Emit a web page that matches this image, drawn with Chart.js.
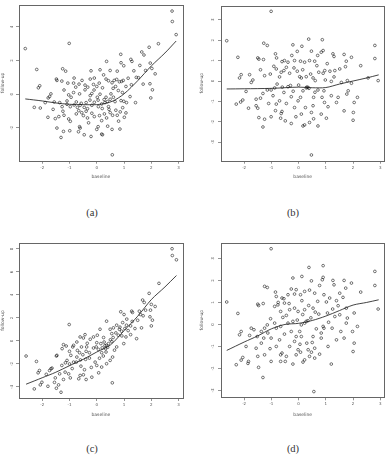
<!DOCTYPE html>
<html><head><meta charset="utf-8">
<script src="https://cdn.jsdelivr.net/npm/chart.js@4.4.1/dist/chart.umd.min.js"></script>
<style>
html,body{margin:0;padding:0;background:#fff;width:389px;height:457px;overflow:hidden;position:relative;}
canvas{position:absolute;}
.cap{position:absolute;font-family:"Liberation Serif","DejaVu Serif",serif;font-size:10.5px;color:#333;transform:translate(-50%,-50%);white-space:nowrap;}
</style></head><body>
<canvas id="ca" width="195" height="180" style="left:0;top:0"></canvas>
<canvas id="cb" width="194" height="180" style="left:195px;top:0"></canvas>
<canvas id="cc" width="195" height="190" style="left:0;top:228px"></canvas>
<canvas id="cd" width="194" height="190" style="left:195px;top:228px"></canvas>
<div class="cap" style="left:92px;top:212px">(a)</div>
<div class="cap" style="left:293px;top:212px">(b)</div>
<div class="cap" style="left:92px;top:448px">(c)</div>
<div class="cap" style="left:293px;top:448px">(d)</div>
<script>
// ---- data ----
const xTicks = [-2, -1, 0, 1, 2, 3];
const yTicksA = [-2, 0, 2, 4];
const yTicksB = [-3, -2, -1, 0, 1, 2, 3];
const yTicksC = [-4, -2, 0, 2, 4, 6, 8];
const yTicksD = [-3, -2, -1, 0, 1, 2, 3];
const xLabel = "baseline";
const yLabel = "follow-up";

const pointsA = [[-2.62,2.71],[2.76,4.94],[2.77,4.32],[2.91,3.54],[-1.01,3.02],[2.26,3.0],[1.92,2.79],[1.65,2.51],[1.73,2.33],[0.88,2.37],[1.25,2.07],[1.29,1.95],[0.36,1.95],[0.89,1.87],[-2.2,1.47],[-1.25,1.51],[-1.14,1.37],[-0.21,1.39],[0.12,1.45],[0.49,1.41],[0.75,1.37],[0.99,1.69],[1.58,1.71],[1.79,1.41],[1.96,1.85],[2.02,1.53],[2.14,1.21],[1.36,1.39],[1.53,0.98],[-1.48,0.9],[-1.46,0.82],[-1.28,0.78],[-0.83,0.96],[-0.54,0.82],[-0.24,0.9],[-0.09,0.96],[0.09,0.66],[0.34,0.9],[0.43,0.8],[0.56,0.68],[0.64,0.82],[0.73,0.88],[0.83,0.74],[0.91,0.76],[0.97,0.82],[1.07,0.46],[-2.09,0.5],[-2.14,0.38],[-1.06,0.66],[-0.85,0.66],[-0.77,0.42],[-0.43,0.54],[-0.33,0.42],[-0.43,0.26],[-0.12,0.58],[0,0.46],[0.21,0.38],[0.69,0.46],[1.27,0.56],[1.95,0.62],[2.04,0.26],[-1.68,0.02],[-1.73,-0.14],[-1.78,-0.22],[-1.03,-0.04],[-0.94,-0.18],[-0.85,0.1],[-0.63,0.02],[-0.24,-0.08],[-0.18,0.04],[0.02,-0.18],[0.12,0],[0.34,-0.18],[0.52,0.02],[0.79,0.22],[0.94,0.1],[0.89,-0.38],[0.99,-0.42],[1.22,-0.14],[1.42,-0.5],[1.98,-0.22],[-2.29,-0.78],[-2.07,-0.82],[-1.89,-0.5],[-1.56,-0.46],[-1.36,-0.5],[-1.27,-0.74],[-1.09,-0.6],[-0.97,-0.74],[-0.83,-0.64],[-0.71,-0.78],[-0.61,-0.66],[-0.46,-0.78],[-0.34,-0.86],[-0.18,-0.66],[-0.09,-0.48],[0.06,-0.74],[0.18,-0.58],[0.3,-0.5],[0.43,-0.74],[0.67,-0.44],[1.09,-0.5],[-1.79,-1.37],[-1.52,-1.45],[-1.39,-1.33],[-1.24,-1.01],[-1.03,-1.47],[-0.97,-1.61],[-0.75,-1.17],[-0.66,-0.98],[-0.49,-1.27],[-0.39,-1.01],[-0.34,-1.41],[-0.18,-1.13],[-0.09,-1.33],[0.1,-1.27],[0.18,-1.57],[0.28,-1.17],[0.36,-1.41],[0.49,-1.09],[0.58,-1.25],[0.75,-1.25],[0.86,-1.05],[1.01,-1.37],[1.07,-1.11],[-1.46,-2.01],[-1.22,-2.21],[-0.99,-2.17],[-0.63,-1.93],[-0.61,-2.01],[-0.67,-2.23],[-0.46,-2.41],[-0.21,-2.51],[0.05,-1.93],[0,-2.09],[0.18,-2.37],[0.21,-2.41],[0.56,-2.09],[-1.31,-2.57],[0.57,-3.6],[0.85,-2.07],[0.27,-0.32],[0.39,-0.44],[0.49,-0.3],[0.61,-0.18],[-0.39,-0.5],[-0.57,-0.54],[-0.75,-0.46],[-1.09,-0.4],[0.45,-0.9],[0.7,-0.95],[0.95,-0.8],[-0.25,-0.35],[0.05,-0.35],[0.2,-0.85],[-0.55,-1.1],[-1.2,-1.25],[-1.6,-0.9],[-0.1,0.25],[0.6,0.35],[1.15,0.95],[1.45,1.0],[1.7,0.6],[0.25,1.15],[-0.65,0.6],[-1.2,0.25],[0.8,-1.6],[-0.3,-1.7],[0.4,-1.9]];
const lineXA = [-2.62,-2,-1.5,-1,-0.5,0,0.3,0.6,1,1.5,2,2.5,2.91];
const lineYA = [-0.28,-0.4,-0.52,-0.6,-0.62,-0.62,-0.55,-0.4,0.02,0.8,1.68,2.45,3.16];

const pointsB = [[-2.64,1.97],[-1.01,3.41],[-2.23,1.16],[-1.28,1.85],[-1.15,1.74],[-0.21,1.77],[0.12,1.7],[0.37,2.05],[0.87,2.02],[0.9,1.49],[0.83,1.41],[0.47,1.46],[1.26,1.33],[1.3,1.2],[1.67,1.3],[1.94,1.16],[2.8,1.74],[2.8,1.1],[2.92,0.02],[2.28,0.75],[-1.5,1.13],[-1.46,1.07],[-1.29,1.05],[-0.85,1.33],[-0.81,1.13],[-0.61,0.95],[-0.52,1.0],[-0.39,0.92],[-0.25,1.25],[-0.15,1.0],[0.07,0.97],[0.22,0.92],[0.4,1.0],[0.59,0.97],[0.67,0.75],[1.75,0.97],[1.51,0.59],[1.33,0.51],[1.15,0.48],[0.96,0.51],[0.74,0.43],[0.9,0.38],[1.72,0.7],[-2.11,0.31],[-2.17,0.15],[-1.8,0.31],[-1.68,0.05],[-1.25,0.26],[-1.04,0.34],[-0.91,0.72],[-0.82,0.59],[-0.64,0.43],[-0.54,0.51],[-0.45,0.67],[-0.33,0.38],[-0.17,0.64],[-0.05,0.48],[0.04,0.21],[0.1,0.15],[0.28,0.21],[0.44,0.34],[0.53,0.15],[0.61,0.02],[0.98,0.05],[1.2,-0.02],[1.57,-0.07],[1.79,0.02],[1.94,-0.11],[1.82,-0.48],[1.77,-0.64],[2.16,-0.8],[2.04,-1.05],[2.01,-1.54],[2.0,-1.92],[1.39,-1.05],[1.2,-0.72],[1.08,-1.26],[1.02,-1.82],[0.93,-0.48],[0.86,-0.8],[0.71,-0.44],[0.55,-0.8],[0.53,-1.21],[0.47,-1.54],[0.4,-2.03],[0.22,-2.15],[0.16,-2.2],[-0.15,-1.3],[-0.1,-1.75],[-0.27,-2.08],[0.1,-1.62],[0.28,-0.34],[0.34,-0.31],[0.16,-0.48],[0.07,-0.8],[-0.02,-0.97],[-0.27,-0.77],[-0.39,-0.28],[-0.54,-0.56],[-0.7,-0.97],[-0.82,-1.13],[-0.61,-1.49],[-0.64,-1.59],[-0.49,-1.95],[-0.66,-1.82],[-1.01,-1.75],[-1.25,-1.87],[-1.31,-2.25],[-1.46,-1.79],[-1.5,-1.33],[-1.56,-1.21],[-1.4,-0.84],[-1.31,-0.61],[-1.15,-0.44],[-1.56,-0.89],[-1.84,-1.33],[-2.29,-1.13],[-2.05,-0.93],[-2.13,-1.03],[-1.93,-0.51],[-1.74,-0.07],[-1.01,-0.44],[-0.94,-0.72],[-0.88,-0.34],[-0.79,-0.15],[0.47,-3.62],[0.71,-2.2],[0.83,-1.62],[1.67,-1.46],[1.45,-0.8],[2.55,0.15],[0.3,-0.3],[0.38,-0.36],[-0.3,-0.22],[-0.6,-0.3],[0.0,-0.2],[0.6,-0.55],[0.95,-1.05],[-0.2,-0.5],[-0.45,-1.1],[-1.1,-1.1],[0.25,-1.3],[1.3,0.2],[0.15,0.55],[-0.7,0.2],[-1.4,0.55],[0.7,1.25],[1.05,0.85],[-0.05,1.45],[0.55,-1.85],[-0.85,-1.45]];
const lineXB = [-2.64,-2,-1,0,0.5,1,1.5,2,2.5,2.94];
const lineYB = [-0.39,-0.38,-0.36,-0.3,-0.33,-0.32,-0.15,0.0,0.15,0.3];

const pointsC = [[-2.59,-1.31],[2.76,8.02],[2.77,7.43],[2.92,7.06],[2.28,5.01],[1.92,4.14],[1.68,3.56],[1.74,3.35],[2.0,3.18],[2.14,3.0],[1.97,2.68],[1.28,2.59],[1.31,2.48],[1.56,2.59],[1.79,2.68],[0.88,2.54],[1.0,2.3],[0.36,1.72],[0.12,1.02],[-1.01,1.43],[1.7,2.19],[1.95,2.1],[2.04,1.81],[2.0,1.31],[1.64,1.14],[1.4,1.08],[1.09,1.37],[1.24,1.31],[1.03,1.08],[0.83,1.02],[0.91,0.85],[0.73,1.37],[0.61,1.14],[0.49,1.02],[0.55,0.64],[0.79,0.5],[0.92,0.44],[1.07,0.35],[1.24,0.55],[0.99,-0.23],[1.46,0.2],[0.02,0.5],[-0.12,0.35],[-0.24,0.15],[-0.43,0.55],[-0.49,0.26],[-0.61,0.35],[-0.73,-0.09],[-0.85,-0.38],[-0.88,-0.52],[-1.22,-0.32],[-1.12,-0.44],[-1.46,-1.25],[-1.48,-1.31],[-1.27,-0.67],[-1.0,-0.9],[-0.95,-1.25],[-0.73,-1.4],[-0.63,-1.02],[-0.51,-1.2],[-0.39,-0.9],[-0.27,-1.02],[-0.12,-0.61],[-0.02,-0.52],[0.06,-0.73],[0.18,-1.02],[0.24,-1.31],[0.32,-0.67],[0.36,-0.38],[0.43,-0.23],[0.27,-0.09],[0.15,-0.23],[0,-0.15],[0.34,-0.96],[0.49,-1.69],[0.58,-1.4],[0.18,-2.27],[0.36,-1.98],[0.07,-2.77],[0.57,-3.64],[-0.18,-3.15],[-0.39,-3.35],[-0.49,-2.94],[-0.61,-3.0],[-0.66,-3.29],[-0.58,-2.19],[-0.75,-1.84],[-0.97,-3.21],[-1.03,-2.86],[-1.16,-2.71],[-1.22,-3.35],[-1.4,-3.82],[-1.31,-4.46],[-1.48,-4.11],[-1.52,-3.21],[-1.36,-2.86],[-1.28,-2.13],[-1.64,-2.36],[-1.73,-2.57],[-1.79,-3.94],[-2.07,-3.82],[-2.01,-3.59],[-2.15,-2.77],[-2.1,-2.57],[-2.21,-1.78],[-2.29,-4.17],[-1.68,-2.42],[-1.09,-1.69],[-0.85,-1.84],[-0.41,-1.6],[-0.27,-1.49],[-0.06,-1.84],[0,-2.13],[0.73,-0.52],[-0.37,-0.52],[-0.56,-0.52],[-0.71,-0.82],[0.3,-0.4],[0.4,-0.55],[0.2,-0.6],[0.5,0.1],[0.6,0.3],[0.7,0.7],[0.95,1.6],[1.1,1.9],[1.5,1.8],[1.15,0.9],[0.85,1.2],[-0.2,-2.3],[-0.9,-2.4],[-1.15,-1.9],[-0.45,-2.5],[0.1,-1.5],[-0.6,-1.65],[-1.0,-2.0],[0.25,0.3],[-0.35,-0.2],[0.65,-0.8],[1.3,1.7],[1.6,2.3],[-1.85,-2.9],[-1.55,-3.6],[0.55,-0.05]];
const lineXC = [-2.59,-2,-1.5,-1,-0.5,0,0.5,1,1.5,2,2.5,2.92];
const lineYC = [-3.76,-3.2,-2.72,-2.15,-1.6,-0.96,-0.35,0.9,2.15,3.6,4.7,5.69];

const pointsD = [[-2.64,1.02],[-1.01,3.44],[-2.23,0.5],[2.8,2.41],[2.8,1.77],[2.92,0.7],[2.28,1.47],[0.9,2.67],[0.38,2.59],[-0.21,2.11],[0.12,2.18],[0.47,1.98],[0.9,2.14],[0.87,2.03],[1.26,2.0],[1.3,1.8],[1.67,2.0],[1.94,1.88],[1.73,1.65],[1.51,1.42],[1.63,1.23],[-1.25,1.73],[-1.15,1.68],[-0.85,1.47],[-0.82,1.27],[-0.61,1.2],[-0.54,1.17],[-0.39,1.35],[-0.27,1.61],[-0.15,1.38],[-0.09,1.58],[0.07,1.35],[0.12,1.08],[0.22,1.5],[0.4,1.56],[0.59,1.42],[0.77,1.77],[0.93,1.35],[1.14,1.2],[1.02,1.02],[1.39,1.08],[-1.5,0.92],[-1.47,0.86],[-1.3,0.95],[-0.88,0.82],[-0.76,0.89],[-0.52,0.97],[-0.66,0.59],[-0.58,0.32],[-0.45,0.41],[-0.33,0.67],[-0.15,0.74],[-0.02,0.59],[0.22,0.67],[0.37,0.86],[0.53,0.74],[0.61,0.56],[0.74,0.47],[1.06,0.52],[1.33,0.36],[1.51,0.44],[1.75,0.74],[1.79,0.29],[1.75,0.06],[2.04,0.52],[2.16,-0.09],[1.98,-0.32],[2.04,-0.85],[2.0,-1.23],[1.55,-0.32],[1.39,-0.7],[1.23,-0.17],[1.08,-1.0],[0.93,-0.17],[0.9,-0.09],[0.83,-0.62],[0.53,-0.55],[0.5,-0.82],[0.59,-1.08],[0.47,-1.26],[0.4,-1.45],[0.59,-1.53],[0.77,-1.35],[0.28,0.14],[0.34,0.17],[0.22,0.06],[0.1,-0.02],[0.04,-0.32],[0.1,-0.55],[-0.09,-0.55],[-0.15,-0.77],[-0.27,-0.32],[-0.21,0.14],[-0.39,0.06],[-0.52,-0.44],[-0.66,-0.09],[-0.82,-0.17],[-0.88,0.06],[-1.03,0.26],[-1.15,-0.02],[-1.25,-0.17],[-1.13,-0.39],[-1.01,-0.62],[-1.28,-0.62],[-1.37,-0.32],[-1.52,-0.55],[-1.56,-1.08],[-1.5,-1.45],[-1.37,-0.85],[-1.25,-1.38],[-1.01,-1.68],[-0.82,-1.0],[-0.66,-1.38],[-0.61,-1.3],[-0.66,-1.68],[-0.49,-1.68],[-0.45,-1.45],[-0.21,-1.8],[-0.09,-1.38],[0.07,-1.26],[0.16,-1.71],[0.22,-1.61],[-0.02,-1.15],[-0.33,-1.0],[-1.93,-1.0],[-1.74,-0.17],[-1.8,-0.5],[-1.64,-0.24],[-2.11,-0.32],[-2.17,-0.47],[-2.05,-1.5],[-2.11,-1.62],[-2.29,-1.83],[-1.84,-1.68],[-1.86,-1.77],[-1.47,-1.95],[-1.31,-2.41],[0.56,-3.05],[1.2,-1.8],[1.67,-0.62],[0.83,-0.39],[0.45,0.3],[0.65,-0.2],[-0.05,0.2],[-0.7,-0.7],[0.3,-0.85],[1.1,0.1],[1.45,0.85],[-0.35,0.95],[0.15,0.45],[-1.05,-1.1],[0.35,-1.15],[1.25,0.7],[-0.75,1.0],[0.05,-0.9],[0.7,1.05]];
const lineXD = [-2.64,-2,-1.5,-1,-0.5,0,0.5,1,1.5,2,2.5,2.94];
const lineYD = [-1.18,-0.8,-0.52,-0.2,0.0,0.05,0.18,0.38,0.63,0.88,1.0,1.12];

// ---- drawing ----
const boxPlugin = {
  id: 'rbox',
  afterDraw(chart) {
    const a = chart.chartArea, c = chart.ctx;
    c.save(); c.strokeStyle = '#666'; c.lineWidth = 1;
    c.strokeRect(Math.round(a.left) + 0.5, Math.round(a.top) + 0.5, Math.round(a.right - a.left), Math.round(a.bottom - a.top));
    c.restore();
  }
};

function panel(id, pts, lx, ly, yTicks, xr, yr, L) {
  const tickFont = {family: 'DejaVu Sans', size: 4};
  new Chart(document.getElementById(id), {
    type: 'scatter',
    data: {datasets: [
      {data: pts.map(p => ({x: p[0], y: p[1]})), pointRadius: 1.35, pointBorderWidth: 0.6,
       pointBorderColor: '#1a1a1a', pointBackgroundColor: 'rgba(0,0,0,0)', showLine: false, clip: false},
      {data: lx.map((x, i) => ({x: x, y: ly[i]})), showLine: true, pointRadius: 0,
       borderColor: '#222', borderWidth: 0.85, tension: 0.3, fill: false}
    ]},
    options: {
      responsive: false, animation: false, devicePixelRatio: 1,
      layout: {padding: {left: 0, right: L.pr, top: L.pt, bottom: 0}},
      plugins: {legend: {display: false}, tooltip: {enabled: false}},
      scales: {
        x: {type: 'linear', position: 'bottom', min: xr[0], max: xr[1],
          afterBuildTicks: s => { s.ticks = xTicks.map(v => ({value: v})); },
          afterFit: s => { s.height = L.xh; },
          ticks: {autoSkip: false, font: tickFont, color: '#555', padding: 1.5, maxRotation: 0, callback: v => String(v)},
          grid: {drawOnChartArea: false, drawTicks: true, tickLength: 3, color: '#666', lineWidth: 0.7},
          border: {display: false},
          title: {display: true, text: xLabel, font: {family: 'DejaVu Sans', size: 4.5}, color: '#555', padding: {top: 0, bottom: 0}}
        },
        y: {type: 'linear', position: 'left', min: yr[0], max: yr[1],
          afterBuildTicks: s => { s.ticks = yTicks.map(v => ({value: v})); },
          afterFit: s => { s.width = L.yw; },
          ticks: {autoSkip: false, font: tickFont, color: '#555', padding: L.yp, minRotation: 90, maxRotation: 90, crossAlign: 'center', callback: v => String(v)},
          grid: {drawOnChartArea: false, drawTicks: true, tickLength: 3, color: '#666', lineWidth: 0.7},
          border: {display: false},
          title: {display: true, text: yLabel, font: {family: 'DejaVu Sans', size: 4.5}, color: '#555', padding: {top: L.tp, bottom: 0}}
        }
      }
    },
    plugins: [boxPlugin]
  });
}

const XR = [-2.85, 3.15];
panel('ca', pointsA, lineXA, lineYA, yTicksA, XR, [-3.95, 5.3], {pr: 12.3, pt: 5, xh: 19.3, yw: 19, yp: 1.7, tp: 0});
panel('cb', pointsB, lineXB, lineYB, yTicksB, XR, [-3.9, 3.69], {pr: 3.3, pt: 5, xh: 19.3, yw: 26, yp: 3.2, tp: 4.5});
panel('cc', pointsC, lineXC, lineYC, yTicksC, XR, [-4.96, 8.52], {pr: 12.3, pt: 15, xh: 20, yw: 19, yp: 1.7, tp: 0});
panel('cd', pointsD, lineXD, lineYD, yTicksD, XR, [-3.31, 3.7], {pr: 3.3, pt: 15, xh: 20.7, yw: 26, yp: 2.7, tp: 4.5});
</script>
</body></html>
